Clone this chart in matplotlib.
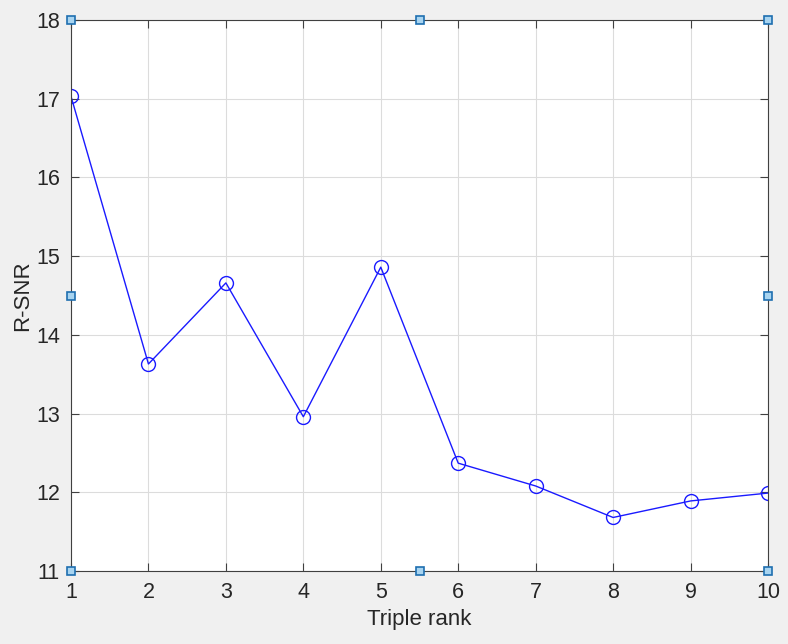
import matplotlib
matplotlib.use("Agg")
import matplotlib.pyplot as plt

plt.rcParams['font.family'] = ['Liberation Sans', 'DejaVu Sans']

rank = [1, 2, 3, 4, 5, 6, 7, 8, 9, 10]
rsnr = [17.03, 13.63, 14.66, 12.96, 14.86, 12.37, 12.08, 11.68, 11.89, 11.99]

fig = plt.figure(figsize=(7.88, 6.44), dpi=100, facecolor='#f0f0f0')
ax = fig.add_axes([71/788, 1 - 571/644, 697/788, 551/644])
ax.set_facecolor('white')

ax.plot(rank, rsnr, color='#1a1aff', lw=1, marker='o', markersize=10,
        markerfacecolor='none', markeredgecolor='#1a1aff', markeredgewidth=1)

ax.set_xlim(1, 10)
ax.set_ylim(11, 18)
ax.set_xticks(range(1, 11))
ax.set_yticks(range(11, 19))
ax.grid(True, color='#dcdcdc', lw=0.8)
ax.set_axisbelow(True)
ax.tick_params(direction='in', top=True, right=True, length=6, width=0.8,
               color='#404040', labelsize=15.5, labelcolor='#262626', pad=8)
for s in ax.spines.values():
    s.set_color('#404040')
    s.set_linewidth(0.8)

ax.set_xlabel('Triple rank', fontsize=16, color='#262626', labelpad=4)
ax.set_ylabel('R-SNR', fontsize=16, color='#262626', labelpad=2)

# selection handles
hx = [1, 5.5, 10, 1, 10, 1, 5.5, 10]
hy = [18, 18, 18, 14.5, 14.5, 11, 11, 11]
ax.plot(hx, hy, ls='none', marker='s', markersize=6, markerfacecolor='#a8d4f0',
        markeredgecolor='#1f6fb0', markeredgewidth=1.2, clip_on=False, zorder=5)

fig.savefig('out.png', dpi=100, facecolor=fig.get_facecolor())
